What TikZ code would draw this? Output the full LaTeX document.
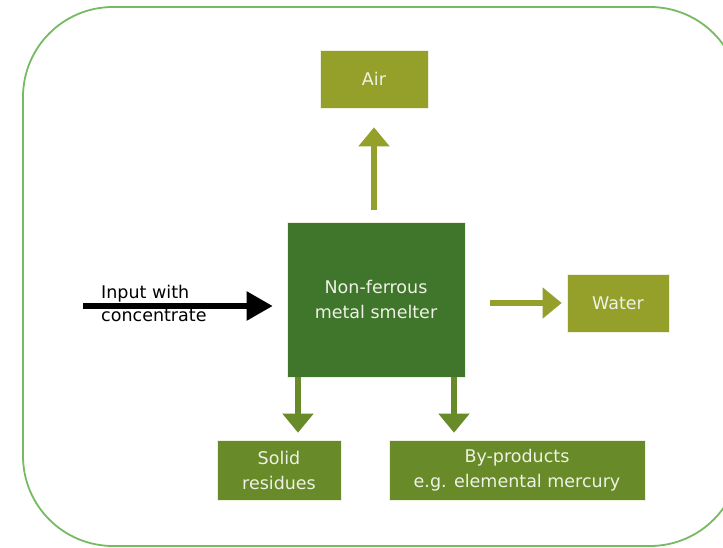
\documentclass[tikz,border=0pt]{standalone}
\usepackage{fontspec}
\setmainfont{DejaVu Sans}
\usetikzlibrary{arrows.meta,calc}

\definecolor{framegreen}{RGB}{118,186,98}
\definecolor{olive}{RGB}{149,160,43}
\definecolor{darkgreen}{RGB}{64,117,44}
\definecolor{midgreen}{RGB}{104,138,40}
\definecolor{boxtext}{RGB}{238,242,228}

\tikzset{
  labelfont/.style={font=\fontsize{17.5}{25}\selectfont},
  boxlabel/.style={labelfont, text=boxtext, align=center,
    inner sep=0pt, draw=white!85!olive, line width=0.6pt},
  outbox/.style={boxlabel, fill=olive},
  mainbox/.style={boxlabel, fill=darkgreen},
  residuebox/.style={boxlabel, fill=midgreen},
  fatarrow/.style={line width=5.5pt, -{Triangle[width=30pt,length=19pt]}},
  frame/.style={draw=framegreen, line width=1.8pt, rounded corners=90pt}
}

\begin{document}
\begin{tikzpicture}[x=1pt,y=-1pt]
  \useasboundingbox (0,0) rectangle (723,548);

  % rounded outer frame
  \draw[frame] (23,7) rectangle (740,546);

  % boxes
  \node[mainbox, minimum width=178pt, minimum height=155pt] (smelter) at (376,299.5)
    {Non-ferrous\\metal smelter};
  \node[outbox, minimum width=108pt, minimum height=58pt] (air) at (374,79) {Air};
  \node[outbox, minimum width=102pt, minimum height=58pt] (water) at (618,303) {Water};
  \node[residuebox, minimum width=124pt, minimum height=60pt] (solid) at (279,470)
    {Solid\\residues};
  \node[residuebox, minimum width=256pt, minimum height=60pt] (byprod) at (517,470)
    {By-products\\e.g. elemental mercury};

  % input arrow and its label
  \coordinate (inputstart) at (83,306);
  \draw[fatarrow, black, -{Triangle[width=28pt,length=26pt]}]
    (inputstart) -- ($(smelter.west |- inputstart)+(-14,0)$);
  \node[labelfont, align=left, inner sep=0pt, anchor=north west,
    font=\fontsize{17.5}{23}\selectfont]
    (inputlabel) at (101,285) {Input with\\concentrate};

  % outputs
  \draw[fatarrow, olive] ($(smelter.north -| air.south)+(0,-12)$) -- ($(air.south)+(0,19)$);
  \draw[fatarrow, olive] ($(smelter.east |- water.west)+(25,0)$) -- ($(water.west)+(-5,0)$);
  \coordinate (leftout) at ($(smelter.south)+(-78,0)$);
  \coordinate (rightout) at ($(smelter.south)+(78,0)$);
  \draw[fatarrow, midgreen] (leftout) -- ($(leftout |- solid.north)+(0,-7)$);
  \draw[fatarrow, midgreen] (rightout) -- ($(rightout |- byprod.north)+(0,-7)$);
\end{tikzpicture}
\end{document}
